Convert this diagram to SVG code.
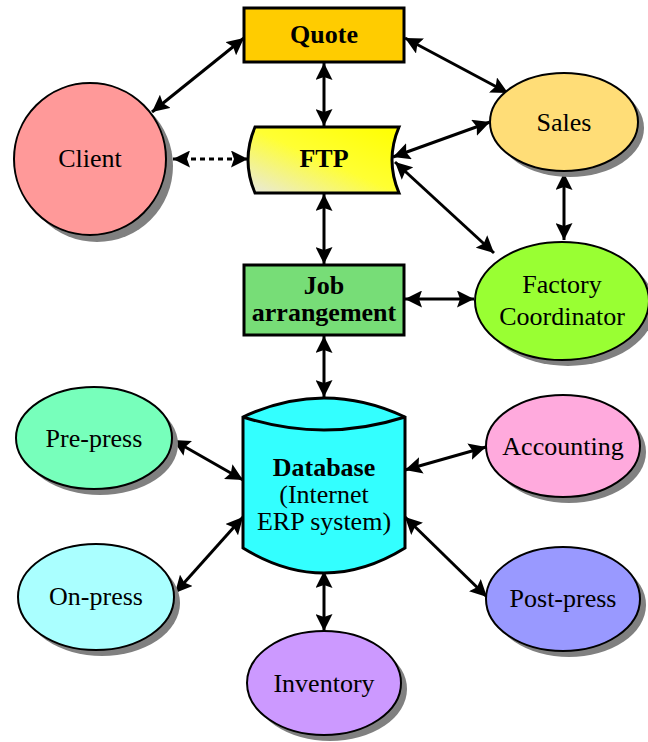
<svg xmlns="http://www.w3.org/2000/svg" width="648" height="742" viewBox="0 0 648 742">
<style>
.t{font-family:'Liberation Serif',serif;font-size:26px;fill:#000;text-anchor:middle}
.b{font-weight:bold}
.box{stroke:#000;stroke-width:3}
.el{stroke:#000;stroke-width:2}
.sh{fill:#808080;stroke:none}
.c{stroke:#000;stroke-width:3;fill:none;marker-start:url(#ah);marker-end:url(#ah)}
.d{stroke-dasharray:5,4}
</style>
<defs>
<marker id="ah" markerUnits="userSpaceOnUse" markerWidth="17" markerHeight="17" viewBox="0 0 17 17" refX="17" refY="8.5" orient="auto-start-reverse">
<path d="M0,0 L17,8.5 L0,17 L3,8.5 z" fill="#000"/>
</marker>
<linearGradient id="ftpg" x1="0" y1="1" x2="1" y2="0">
<stop offset="0" stop-color="#E8E8E0"/>
<stop offset="0.5" stop-color="#FFFF33"/>
<stop offset="1" stop-color="#FFFF00"/>
</linearGradient>
</defs>
<g id="connectors">
<line class="c" x1="244" y1="38" x2="152" y2="112"/>
<line class="c" x1="324" y1="63" x2="324" y2="126"/>
<line class="c" x1="405" y1="38" x2="508" y2="93"/>
<line class="c d" x1="173" y1="159" x2="248" y2="159"/>
<line class="c" x1="393" y1="157" x2="490" y2="122"/>
<line class="c" x1="395" y1="162" x2="494" y2="253"/>
<line class="c" x1="324" y1="194" x2="324" y2="264"/>
<line class="c" x1="564" y1="173" x2="564" y2="240"/>
<line class="c" x1="405" y1="299" x2="474" y2="299"/>
<line class="c" x1="324" y1="336" x2="324" y2="397"/>
<line class="c" x1="173" y1="440" x2="243" y2="480"/>
<line class="c" x1="175" y1="593" x2="243" y2="517"/>
<line class="c" x1="405" y1="470" x2="486" y2="447"/>
<line class="c" x1="405" y1="517" x2="487" y2="597"/>
<line class="c" x1="324" y1="571" x2="324" y2="631"/>
</g>
<g id="quote">
<rect class="box" x="244" y="8" width="160" height="54" fill="#FFCC00"/>
<text class="t b" x="324" y="43">Quote</text>
</g>
<g id="ftp">
<path class="box" d="M255,127 L399,127 Q385,160 399,193 L255,193 Q241,160 255,127 Z" fill="url(#ftpg)"/>
<text class="t b" x="324" y="167">FTP</text>
</g>
<g id="client">
<circle class="sh" cx="97" cy="166" r="76"/>
<circle class="el" cx="90" cy="159" r="76" fill="#FF9999"/>
<text class="t" x="90" y="167">Client</text>
</g>
<g id="sales">
<ellipse class="sh" cx="570" cy="128" rx="74" ry="49"/>
<ellipse class="el" cx="564" cy="122" rx="74" ry="49" fill="#FFDD77"/>
<text class="t" x="564" y="131">Sales</text>
</g>
<g id="factory">
<ellipse class="sh" cx="568" cy="307" rx="87" ry="59"/>
<ellipse class="el" cx="562" cy="301" rx="87" ry="59" fill="#99FF33"/>
<text class="t" x="562" y="293">Factory</text>
<text class="t" x="562" y="325">Coordinator</text>
</g>
<g id="job">
<rect class="box" x="244" y="265" width="160" height="70" fill="#77DD77"/>
<text class="t b" x="324" y="294">Job</text>
<text class="t b" x="324" y="321">arrangement</text>
</g>
<g id="database">
<path class="box" d="M243,417 Q324,379 405,417 L405,548 Q324,598 243,548 Z" fill="#33FFFF"/>
<path class="box" d="M243,417 Q324,443 405,417" fill="none"/>
<text class="t b" x="324" y="476">Database</text>
<text class="t" x="324" y="503">(Internet</text>
<text class="t" x="324" y="530">ERP system)</text>
</g>
<g id="prepress">
<ellipse class="sh" cx="100" cy="444" rx="78" ry="51"/>
<ellipse class="el" cx="94" cy="438" rx="78" ry="51" fill="#77FFBB"/>
<text class="t" x="94" y="447">Pre-press</text>
</g>
<g id="onpress">
<ellipse class="sh" cx="102" cy="603" rx="78" ry="53"/>
<ellipse class="el" cx="96" cy="597" rx="78" ry="53" fill="#AAFFFF"/>
<text class="t" x="96" y="605">On-press</text>
</g>
<g id="accounting">
<ellipse class="sh" cx="569" cy="452" rx="77" ry="51"/>
<ellipse class="el" cx="563" cy="446" rx="77" ry="51" fill="#FFAADD"/>
<text class="t" x="563" y="455">Accounting</text>
</g>
<g id="postpress">
<ellipse class="sh" cx="569" cy="605" rx="77" ry="52"/>
<ellipse class="el" cx="563" cy="599" rx="77" ry="52" fill="#9999FF"/>
<text class="t" x="563" y="607">Post-press</text>
</g>
<g id="inventory">
<ellipse class="sh" cx="330" cy="689" rx="77" ry="52"/>
<ellipse class="el" cx="324" cy="683" rx="77" ry="52" fill="#CC99FF"/>
<text class="t" x="324" y="692">Inventory</text>
</g>
</svg>
